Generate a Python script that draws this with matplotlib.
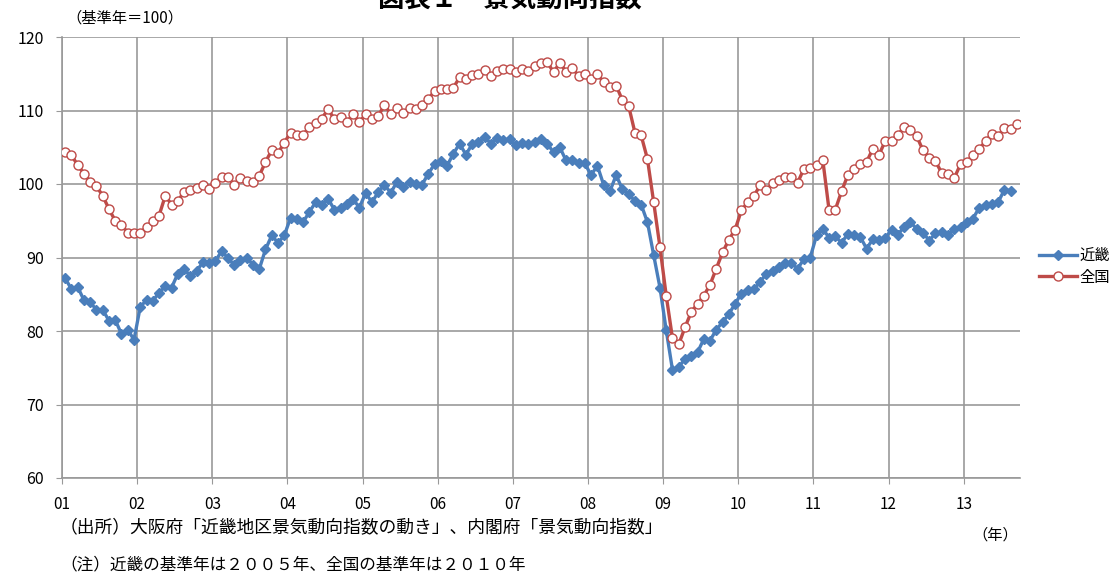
import numpy as np
import matplotlib.pyplot as plt

plt.rcParams['font.family'] = ['Noto Sans CJK JP', 'DejaVu Sans']

# monthly values, Jan 2001 onward
years = ['01', '02', '03', '04', '05', '06', '07', '08', '09', '10', '11', '12', '13']

kinki = [
    87.2, 85.7, 86.0, 84.2, 83.9, 82.9, 82.9, 81.4, 81.5, 79.6, 80.2, 78.8,
    83.3, 84.2, 84.1, 85.2, 86.1, 85.9, 87.8, 88.4, 87.5, 88.1, 89.4, 89.2,
    89.5, 90.9, 89.9, 89.0, 89.7, 90.0, 89.0, 88.4, 91.1, 93.0, 92.0, 93.0,
    95.4, 95.3, 94.8, 96.2, 97.5, 97.2, 98.0, 96.5, 96.8, 97.3, 97.9, 96.8,
    98.8, 97.5, 98.9, 99.9, 98.8, 100.3, 99.6, 100.3, 100.0, 99.9, 101.4, 102.7,
    103.1, 102.5, 104.1, 105.5, 104.0, 105.4, 105.7, 106.4, 105.5, 106.3, 106.0, 106.1,
    105.3, 105.6, 105.4, 105.7, 106.1, 105.5, 104.3, 105.0, 103.2, 103.2, 102.9, 102.8,
    101.2, 102.5, 99.9, 99.0, 101.2, 99.3, 98.6, 97.7, 97.2, 94.8, 90.3, 85.9,
    80.1, 74.7, 75.1, 76.2, 76.6, 77.1, 78.9, 78.7, 80.2, 81.2, 82.3, 83.7,
    85.1, 85.6, 85.7, 86.7, 87.8, 88.2, 88.7, 89.2, 89.2, 88.5, 89.8, 90.0,
    93.0, 93.9, 92.7, 92.9, 92.0, 93.2, 93.0, 92.8, 91.2, 92.5, 92.4, 92.7,
    93.8, 93.1, 94.2, 94.8, 93.9, 93.4, 92.3, 93.3, 93.5, 93.0, 93.9, 94.2,
    94.8, 95.3, 96.8, 97.1, 97.3, 97.5, 99.2, 99.1,
]

zenkoku = [
    104.4, 103.9, 102.6, 101.4, 100.3, 99.7, 98.4, 96.6, 95.0, 94.4, 93.4, 93.4,
    93.3, 94.2, 94.9, 95.7, 98.4, 97.2, 97.7, 98.9, 99.2, 99.5, 99.9, 99.3,
    100.2, 100.9, 100.9, 99.9, 100.8, 100.4, 100.3, 101.1, 103.0, 104.6, 104.2, 105.6,
    107.0, 106.7, 106.7, 107.7, 108.3, 108.9, 110.2, 108.8, 109.1, 108.4, 109.5, 108.4,
    109.5, 108.8, 109.2, 110.8, 109.5, 110.3, 109.7, 110.4, 110.2, 110.7, 111.5, 112.7,
    112.9, 112.9, 113.1, 114.5, 114.3, 114.8, 114.9, 115.5, 114.7, 115.4, 115.7, 115.7,
    115.2, 115.6, 115.4, 116.1, 116.4, 116.6, 115.2, 116.5, 115.3, 115.8, 114.7, 115.0,
    114.3, 114.9, 113.9, 113.2, 113.4, 111.4, 110.6, 107.0, 106.6, 103.4, 97.5, 91.4,
    84.8, 79.0, 78.2, 80.5, 82.6, 83.7, 84.8, 86.3, 88.5, 90.7, 92.4, 93.8,
    96.4, 97.5, 98.4, 99.8, 99.2, 100.1, 100.5, 101.0, 101.0, 100.2, 102.1, 102.2,
    102.6, 103.3, 96.5, 96.5, 99.0, 101.2, 102.1, 102.7, 103.0, 104.8, 104.0, 105.9,
    105.9, 106.6, 107.8, 107.3, 106.5, 104.6, 103.6, 103.1, 101.5, 101.3, 100.8, 102.7,
    103.0, 103.9, 104.8, 105.8, 106.8, 106.5, 107.6, 107.5, 108.1,
]

fig = plt.figure(figsize=(11.2, 5.76), dpi=100)
ax = fig.add_axes([62 / 1120, 1 - 478 / 576, (1020 - 62) / 1120, (478 - 37) / 576])

x_k = np.arange(len(kinki)) + 0.5
x_z = np.arange(len(zenkoku)) + 0.5
ax.plot(x_k, kinki, color='#4a7ebb', lw=2.4, marker='D', ms=5.5,
        mec='#4a7ebb', label='近畿', zorder=3)
ax.plot(x_z, zenkoku, color='#be4b48', lw=2.4, marker='o', ms=6.5,
        mfc='white', mec='#be4b48', mew=1.0, label='全国', zorder=4)

ax.set_xlim(0, 153)
ax.set_ylim(60, 120)
ax.set_yticks(range(60, 121, 10))
ax.set_xticks(np.arange(len(years)) * 12)
ax.set_xticklabels(years)
ax.grid(True, color='#999999', lw=1.2)
ax.set_axisbelow(True)
for side in ['top', 'right']:
    ax.spines[side].set_visible(False)
for side in ['left', 'bottom']:
    ax.spines[side].set_color('#999999')
    ax.spines[side].set_linewidth(1.2)
ax.tick_params(axis='x', length=4, color='#999999', pad=9, labelsize=11)
ax.tick_params(axis='y', length=4, color='#999999', pad=9, labelsize=11.5)

ax.legend(loc='center left', bbox_to_anchor=(1.005, 0.48), frameon=False,
          fontsize=11, handlelength=2.5, handletextpad=0.2, labelspacing=0.3)

# title sits partly above the top edge
fig.text(510 / 1120, 1 - 13 / 576, '図表１　景気動向指数', ha='center', va='bottom',
         fontsize=19, fontweight='bold')
fig.text(66 / 1120, 1 - 18 / 576, '（基準年＝100）', ha='left', va='center', fontsize=11)
fig.text(60 / 1120, 1 - 528 / 576, '（出所）大阪府「近畿地区景気動向指数の動き」、内閣府「景気動向指数」',
         ha='left', va='center', fontsize=12.8)
fig.text(995 / 1120, 1 - 535 / 576, '（年）', ha='center', va='center', fontsize=11)
fig.text(60 / 1120, 1 - 565 / 576, '（注）近畿の基準年は２００５年、全国の基準年は２０１０年',
         ha='left', va='center', fontsize=12)

fig.savefig('out.png', dpi=100)
